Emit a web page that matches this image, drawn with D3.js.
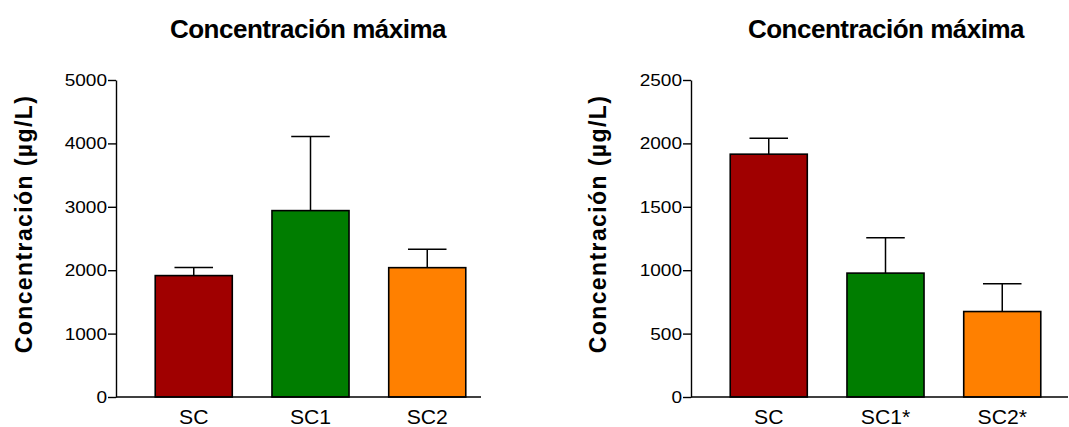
<!DOCTYPE html>
<html>
<head>
<meta charset="utf-8">
<script src="https://cdn.jsdelivr.net/npm/d3@7"></script>
<style>
  html, body { margin: 0; padding: 0; background: #fff; }
  svg { display: block; font-family: "Liberation Sans", Arial, sans-serif; }
</style>
</head>
<body>
<svg id="chart" width="1069" height="427"></svg>
<script>
// Peak concentration per formulation (mean and upper error)
const titles = ["Concentración máxima", "Concentración máxima"];
const yLabel = "Concentración (µg/L)";

const categoriesA = ["SC", "SC1", "SC2"];
const meansA = [1915, 2940, 2040];
const errorsA = [126, 1168, 291];
const yMaxA = 5000;
const ticksA = [0, 1000, 2000, 3000, 4000, 5000];

const categoriesB = ["SC", "SC1*", "SC2*"];
const meansB = [1915, 977, 674];
const errorsB = [126, 278, 219];
const yMaxB = 2500;
const ticksB = [0, 500, 1000, 1500, 2000, 2500];

const barColors = ["#a00000", "#007d00", "#ff8000"];

const svg = d3.select("#chart");

function panel(opts) {
  const { left, axisEnd, top, bottom, categories, means, errors, yMax, ticks, title, titleX, labelX } = opts;
  const g = svg.append("g");

  const y = d3.scaleLinear().domain([0, yMax]).range([bottom, top]);
  const x = d3.scaleBand()
    .domain(categories)
    .range([left, left + 389])
    .paddingInner(0.34)
    .paddingOuter(0.336);

  // bars
  g.selectAll("rect.bar")
    .data(categories)
    .join("rect")
    .attr("class", "bar")
    .attr("x", d => x(d))
    .attr("width", x.bandwidth())
    .attr("y", (d, i) => y(means[i]))
    .attr("height", (d, i) => y(0) - y(means[i]))
    .attr("fill", (d, i) => barColors[i])
    .attr("stroke", "#000")
    .attr("stroke-width", 1.6);

  // upper error bars
  const capW = x.bandwidth() / 2;
  const eb = g.selectAll("g.err").data(categories).join("g").attr("class", "err");
  eb.append("line")
    .attr("x1", d => x(d) + x.bandwidth() / 2)
    .attr("x2", d => x(d) + x.bandwidth() / 2)
    .attr("y1", (d, i) => y(means[i]))
    .attr("y2", (d, i) => y(means[i] + errors[i]))
    .attr("stroke", "#000").attr("stroke-width", 1.5);
  eb.append("line")
    .attr("x1", d => x(d) + x.bandwidth() / 2 - capW / 2)
    .attr("x2", d => x(d) + x.bandwidth() / 2 + capW / 2)
    .attr("y1", (d, i) => y(means[i] + errors[i]))
    .attr("y2", (d, i) => y(means[i] + errors[i]))
    .attr("stroke", "#000").attr("stroke-width", 1.5);

  // baseline
  g.append("line")
    .attr("x1", left).attr("x2", axisEnd)
    .attr("y1", y(0)).attr("y2", y(0))
    .attr("stroke", "#000").attr("stroke-width", 1.4);

  // y axis
  const yAxis = d3.axisLeft(y).tickValues(ticks).tickSize(8).tickSizeOuter(0).tickFormat(d3.format("d"));
  const ya = g.append("g").attr("transform", `translate(${left},0)`).call(yAxis);
  ya.select(".domain").attr("stroke", "#000").attr("stroke-width", 1.4);
  ya.selectAll(".tick line").attr("stroke", "#000").attr("stroke-width", 1.4);
  ya.selectAll(".tick text")
    .attr("x", 0)
    .attr("transform", "translate(-9,0) scale(1.12,1)")
    .attr("fill", "#000")
    .style("font-size", "17px")
    .style("font-family", "'Liberation Sans', Arial, sans-serif");

  // category labels
  g.selectAll("text.cat")
    .data(categories)
    .join("text")
    .attr("class", "cat")
    .attr("transform", d => `translate(${x(d) + x.bandwidth() / 2},424) scale(1.06,1)`)
    .attr("text-anchor", "middle")
    .style("font-size", "20px")
    .attr("fill", "#000")
    .text(d => d);

  // title
  g.append("text")
    .attr("x", titleX).attr("y", 38)
    .attr("text-anchor", "middle")
    .style("font-size", "26px")
    .style("font-weight", "bold")
    .style("letter-spacing", "-0.5px")
    .attr("fill", "#000")
    .text(title);

  // y axis label
  g.append("text")
    .attr("transform", `translate(${labelX},224) rotate(-90)`)
    .attr("text-anchor", "middle")
    .attr("dy", "0.35em")
    .style("font-size", "23px")
    .style("font-weight", "bold")
    .style("letter-spacing", "1.4px")
    .attr("fill", "#000")
    .text(yLabel);
}

panel({
  left: 116, axisEnd: 481, top: 80, bottom: 397,
  categories: categoriesA, means: meansA, errors: errorsA,
  yMax: yMaxA, ticks: ticksA, title: titles[0], titleX: 308, labelX: 24
});

panel({
  left: 691, axisEnd: 1068, top: 80, bottom: 397,
  categories: categoriesB, means: meansB, errors: errorsB,
  yMax: yMaxB, ticks: ticksB, title: titles[1], titleX: 886, labelX: 598
});
</script>
</body>
</html>
